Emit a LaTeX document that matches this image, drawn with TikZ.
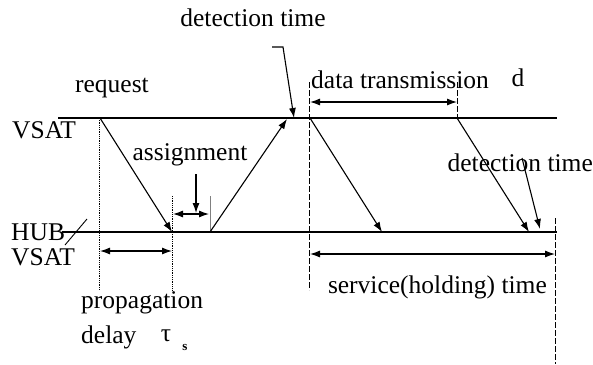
\documentclass[tikz,border=0pt]{standalone}
\usepackage{fontspec}
\setmainfont{Liberation Serif}
\usetikzlibrary{arrows.meta}
\begin{document}
\begin{tikzpicture}[x=1pt,y=-1pt,
  lbl/.style={font=\fontsize{25.5}{28}\selectfont, inner sep=0pt},
  axis/.style={line width=1.6pt},
  arr/.style={line width=1.1pt,-{Latex[length=10pt,width=7pt]}},
  darr/.style={line width=1.1pt,{Latex[length=10pt,width=7pt]}-{Latex[length=10pt,width=7pt]}},
  dotv/.style={line width=0.8pt,densely dotted},
  dashv/.style={line width=0.8pt,dash pattern=on 6pt off 2pt},
  tick/.style={line width=0.8pt,gray}]
\useasboundingbox (0,0) rectangle (593,364);
% coordinates
\coordinate (vL) at (58,118); \coordinate (vR) at (557,118);
\coordinate (hL) at (62,232); \coordinate (hR) at (557,232);
\coordinate (req) at (100,118); \coordinate (reqE) at (172,232);
\coordinate (d1t) at (99,118); \coordinate (d1b) at (99,290);
\coordinate (d2t) at (172,196); \coordinate (d2b) at (172,290);
\coordinate (pA) at (100,251); \coordinate (pB) at (172,251);
\coordinate (tkT) at (210,196); \coordinate (tkB) at (210,232);
\coordinate (aA) at (173,214); \coordinate (aB) at (209,214);
\coordinate (adT) at (196,174); \coordinate (adB) at (196,213);
\coordinate (upS) at (210,232); \coordinate (upE) at (287,119);
\coordinate (dt1) at (272,47); \coordinate (dt2) at (283,47); \coordinate (dt3) at (294,118);
\coordinate (d3t) at (309,82); \coordinate (d3b) at (309,290);
\coordinate (dA) at (310,102); \coordinate (dB) at (457,102);
\coordinate (d4t) at (457,82); \coordinate (d4b) at (457,118);
\coordinate (m1S) at (310,118); \coordinate (m1E) at (382,232);
\coordinate (m2S) at (457,118); \coordinate (m2E) at (529,232);
\coordinate (dr1) at (522,158); \coordinate (dr2) at (540,229);
\coordinate (d5t) at (555,218); \coordinate (d5b) at (555,364);
\coordinate (sA) at (310,254); \coordinate (sB) at (555,254);
\coordinate (slA) at (65,245); \coordinate (slB) at (87,219);
% axes
\draw[axis] (vL) -- (vR);
\draw[axis] (hL) -- (hR);
\draw[line width=0.9pt] (slA) -- (slB);
% guides
\draw[dotv] (d1t) -- (d1b);
\draw[dotv] (d2t) -- (d2b);
\draw[tick] (tkT) -- (tkB);
\draw[dashv] (d3t) -- (d3b);
\draw[dashv] (d4t) -- (d4b);
\draw[dashv] (d5t) -- (d5b);
% labels
\node[lbl,anchor=west] (tVSAT) at (12,130) {VSAT};
\node[lbl] (tReq) at (112,88) {request};
\node[lbl] (tDet) at (253,18) {detection time};
\node[lbl,anchor=west] (tData) at (311,80) {data transmission};
\node[lbl] (tD) at (518,78) {d};
\node[lbl] (tAss) at (190,155) {assignment};
\node[lbl,anchor=east] (tDet2) at (593,163) {detection time};
\node[lbl,anchor=west] (tHub) at (11,232) {HUB};
\node[lbl,anchor=west] (tVSAT2) at (11,257) {VSAT};
\node[lbl,anchor=west] (tProp) at (81,303) {propagation};
\node[lbl,anchor=west] (tDelay) at (81,337) {delay};
\node[lbl] (tTau) at (166,336) {τ};
\node[font=\fontsize{13}{14}\selectfont\bfseries, inner sep=0pt] (tS) at (185,347) {s};
\node[lbl,anchor=east] (tServ) at (547,287) {service(holding) time};
% arrows
\draw[arr] (req) -- (reqE);
\draw[darr] (pA) -- (pB);
\draw[darr] (aA) -- (aB);
\draw[arr] (adT) -- (adB);
\draw[arr] (upS) -- (upE);
\draw[arr] (dt1) -- (dt2) -- (dt3);
\draw[darr] (dA) -- (dB);
\draw[arr] (m1S) -- (m1E);
\draw[arr] (m2S) -- (m2E);
\draw[arr] (dr1) -- (dr2);
\draw[darr] (sA) -- (sB);
\end{tikzpicture}
\end{document}
